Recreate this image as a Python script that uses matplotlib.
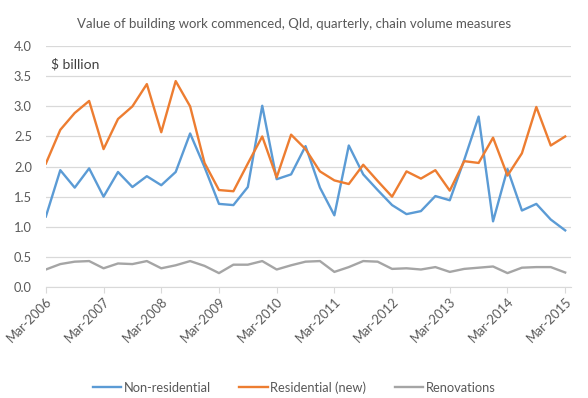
import matplotlib.pyplot as plt
import numpy as np

plt.rcParams['font.family'] = ['Lato', 'DejaVu Sans']

# quarterly, Mar-2006 .. Mar-2015
years = list(range(2006, 2016))
tick_labels = ["Mar-%d" % y for y in years]

non_residential = [1.17, 1.94, 1.65, 1.97, 1.50, 1.91, 1.66, 1.84, 1.69, 1.91,
                   2.55, 1.99, 1.38, 1.36, 1.66, 3.01, 1.79, 1.87, 2.34, 1.65,
                   1.19, 2.35, 1.87, 1.61, 1.36, 1.21, 1.26, 1.51, 1.44, 2.11,
                   2.83, 1.09, 1.96, 1.27, 1.38, 1.12, 0.94]
residential = [2.05, 2.61, 2.89, 3.09, 2.29, 2.79, 3.00, 3.37, 2.57, 3.42,
               3.00, 2.06, 1.61, 1.59, 2.05, 2.50, 1.82, 2.53, 2.29, 1.92,
               1.77, 1.71, 2.03, 1.76, 1.50, 1.92, 1.80, 1.94, 1.60, 2.09,
               2.06, 2.48, 1.85, 2.22, 2.99, 2.35, 2.50]
renovations = [0.29, 0.38, 0.42, 0.43, 0.31, 0.39, 0.38, 0.43, 0.31, 0.36,
               0.43, 0.35, 0.23, 0.37, 0.37, 0.43, 0.29, 0.36, 0.42, 0.43,
               0.25, 0.33, 0.43, 0.42, 0.30, 0.31, 0.29, 0.33, 0.25, 0.30,
               0.32, 0.34, 0.23, 0.32, 0.33, 0.33, 0.24]

x = np.arange(len(non_residential))

fig = plt.figure(figsize=(5.88, 3.98), dpi=100)
ax = fig.add_axes([0.078, 0.279, 0.893, 0.605])

ax.plot(x, non_residential, color='#5B9BD5', lw=1.7, label='Non-residential')
ax.plot(x, residential, color='#ED7D31', lw=1.7, label='Residential (new)')
ax.plot(x, renovations, color='#A5A5A5', lw=1.7, label='Renovations')

ax.set_xlim(0, 36.4)
ax.set_ylim(0, 4.0)
ax.set_yticks(np.arange(0, 4.01, 0.5))
ax.set_yticklabels(["%.1f" % v for v in np.arange(0, 4.01, 0.5)])
ax.grid(axis='y', color='#D9D9D9', lw=0.9)
ax.set_axisbelow(True)

ax.set_xticks(x[::4])
ax.set_xticklabels(tick_labels, rotation=45, ha='right', rotation_mode='anchor')
ax.tick_params(axis='x', colors='#595959', labelsize=9.3, length=4, color='#D9D9D9', pad=2)
ax.tick_params(axis='y', colors='#595959', labelsize=9.3, length=0, pad=10)

for s in ['top', 'right', 'left']:
    ax.spines[s].set_visible(False)
ax.spines['bottom'].set_color('#D9D9D9')

ax.text(0.01, 0.95, "$ billion", transform=ax.transAxes, fontsize=10,
        color='#404040', va='top', ha='left')

fig.text(0.5, 0.94, "Value of building work commenced, Qld, quarterly, chain volume measures",
         ha='center', va='center', fontsize=9.5, color='#595959')

fig.legend(loc='lower center', bbox_to_anchor=(0.5, -0.018), ncol=3, frameon=False,
           fontsize=9.3, handlelength=2.2, handletextpad=0.2, columnspacing=2.2,
           labelcolor='#595959')

fig.savefig('out.png', dpi=100)
